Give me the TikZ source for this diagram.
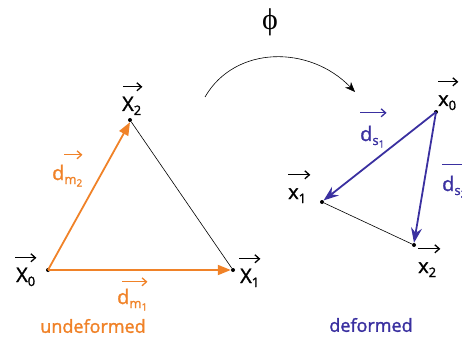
\documentclass[tikz,border=0pt]{standalone}
\usepackage{fontspec}
\setmainfont{Open Sans}
\newfontfamily\labfont{Open Sans}[FakeBold=1.5]
\newfontfamily\phifont{Liberation Serif}
\usetikzlibrary{arrows.meta}
\definecolor{orng}{RGB}{240,130,40}
\definecolor{blu}{RGB}{58,48,160}
\newcommand{\sbs}[1]{\raisebox{-4pt}{\fontsize{13}{13}\selectfont #1}}
\newcommand{\ssbs}[1]{\raisebox{-2.5pt}{\fontsize{10}{10}\selectfont #1}}
\begin{document}
\begin{tikzpicture}[x=1pt,y=-1pt,
  dot/.style={circle,fill=black,inner sep=0pt,minimum size=4pt},
  lbl/.style={inner sep=0pt,anchor=base west,text height=14pt,text depth=4pt,font=\labfont\fontsize{20}{22}\selectfont},
  olbl/.style={lbl,text=orng},
  blbl/.style={lbl,text=blu},
  captext/.style={inner sep=0pt,font=\labfont\fontsize{18}{20}\selectfont},
  varr/.style={line width=1.3pt,-{Straight Barb[length=4.5pt,width=8pt]}},
  ovec/.style={draw=orng,line width=1.8pt,-{Triangle[length=13pt,width=10pt]}},
  bvec/.style={draw=blu,line width=1.8pt,-{Stealth[length=15pt,width=11pt,inset=5pt]}},
  edge/.style={draw=black,line width=0.6pt}]
\useasboundingbox (0,0) rectangle (462,339);
\clip (0,0) rectangle (462,339);
% undeformed
\node[dot] (X0) at (48,270) {};
\node[dot] (X1) at (233,270) {};
\node[dot] (X2) at (130,120) {};
\draw[edge] (X2) -- (X1);
\draw[ovec] (X0.center) -- (X1.west);
\draw[ovec] (X0.center) -- (X2.south);
\node[lbl] (lX0) at (16,282) {X\sbs{0}};
\node[lbl] (lX1) at (240,283) {X\sbs{1}};
\node[lbl] (lX2) at (122,111) {X\sbs{2}};
\node[olbl] (ldm2) at (52,180) {d\sbs{m\ssbs{2}}};
\node[olbl] (ldm1) at (117,304) {d\sbs{m\ssbs{1}}};
\draw[varr] ([shift={(-1,-10)}]lX0.north west) -- ([shift={(1,-10)}]lX0.north east);
\draw[varr] ([shift={(-1,-10)}]lX1.north west) -- ([shift={(1,-10)}]lX1.north east);
\draw[varr] ([shift={(1,-10)}]lX2.north west) -- ([shift={(1,-10)}]lX2.north east);
\draw[varr,orng] ([shift={(12,-11)}]ldm2.north west) -- ([shift={(0,-11)}]ldm2.north east);
\draw[varr,orng] ([shift={(5,-8)}]ldm1.north west) -- ([shift={(0,-8)}]ldm1.north east);
\node[captext,text=orng] (und) at (93,326) {undeformed};
% deformed
\node[dot] (x0) at (436,112) {};
\node[dot] (x1) at (322,202) {};
\node[dot] (x2) at (414,245) {};
\draw[edge] (x1) -- (x2);
\draw[bvec] (x0.center) -- (x1.north east);
\draw[bvec] (x0.center) -- (x2.north);
\node[lbl] (lx0) at (438,106) {x\sbs{0}};
\node[lbl] (lx1) at (288,199) {x\sbs{1}};
\node[lbl] (lx2) at (418,273) {x\sbs{2}};
\node[blbl] (lds1) at (360,141) {d\sbs{s\ssbs{1}}};
\node[blbl] (lds2) at (442,191) {d\sbs{s\ssbs{2}}};
\draw[varr] ([shift={(0,-10)}]lx0.north west) -- ([shift={(2,-10)}]lx0.north east);
\draw[varr] ([shift={(0,-10)}]lx1.north west) -- ([shift={(4,-10)}]lx1.north east);
\draw[varr] ([shift={(0,-10)}]lx2.north west) -- ([shift={(4,-10)}]lx2.north east);
\draw[varr,blu] ([shift={(0,-14)}]lds1.north west) -- ([shift={(2,-14)}]lds1.north east);
\draw[varr,blu] ([shift={(0,-12)}]lds2.north west) -- ([shift={(6,-12)}]lds2.north east);
\node[captext,text=blu] (def) at (371,325) {deformed};
% map
\node[inner sep=0pt,font=\phifont\fontsize{30}{32}\selectfont] (phi) at (270,22) {ϕ};
\coordinate (a0) at (205,97);
\coordinate (a1) at (355,92);
\draw[line width=0.6pt,-{Stealth[length=10pt,width=8pt,inset=3pt]}] (a0) .. controls (235,45) and (310,45) .. (a1);
\end{tikzpicture}
\end{document}
